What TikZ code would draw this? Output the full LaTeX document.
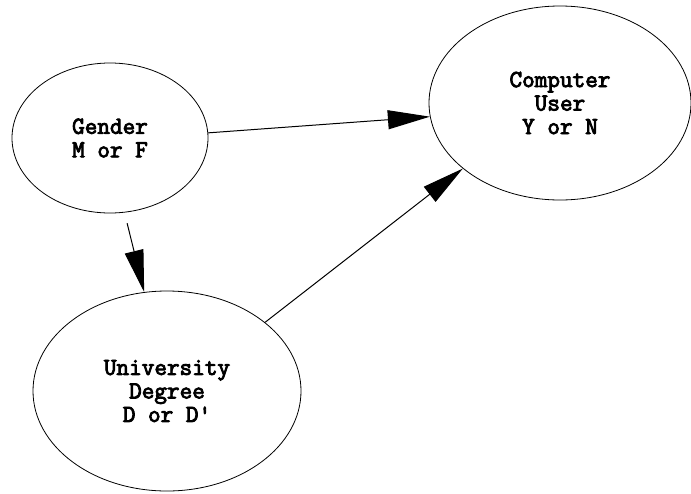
\documentclass[tikz,border=0pt]{standalone}
\usepackage{fontspec}
\newfontfamily\courbold[FakeBold=3.5]{Latin Modern Mono}
\usetikzlibrary{shapes.geometric,arrows.meta}
\begin{document}
\begin{tikzpicture}[x=1pt,y=-1pt,
  var/.style={draw=black,line width=0.8pt,ellipse,inner sep=0pt,align=center,
    font=\fontsize{24.5}{23.5}\selectfont\courbold},
  link/.style={line width=1pt,-{Triangle[length=42pt,width=19pt]}}]
\useasboundingbox[fill=white] (0,0) rectangle (691,493);
\node[var,minimum width=196pt,minimum height=150pt] (g) at (110,138) {Gender\\M or F};
\node[var,minimum width=262pt,minimum height=194pt] (c) at (560,103) {Computer\\User\\Y or N};
\node[var,minimum width=268pt,minimum height=200pt] (u) at (167,391) {University\\Degree\\D or D'};
\draw[link] (g.3.5) -- (c.186);
\draw[link] (u.35) -- (c.214);
\draw[link,shorten <=11pt] (g.281) -- (u.103.5);
\end{tikzpicture}
\end{document}
